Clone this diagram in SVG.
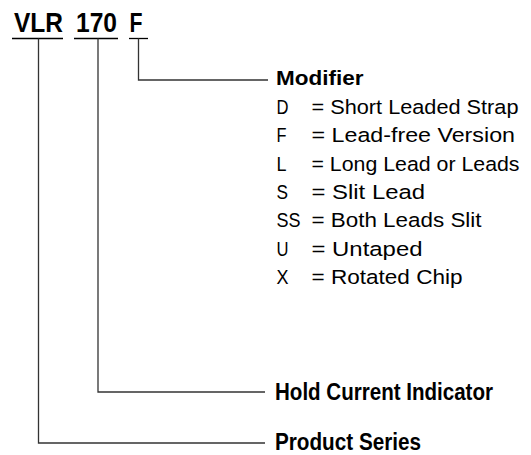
<svg xmlns="http://www.w3.org/2000/svg" width="531" height="455" viewBox="0 0 531 455">
<style>
text{font-family:"Liberation Sans",Arial,sans-serif;fill:#000}
.b{font-weight:bold}
.t{font-size:28px}
.h{font-size:20.5px}
.h2{font-size:23px}
.r{font-size:20.5px}
.ln{stroke:#000;stroke-width:1.3;fill:none}
.cn{stroke:#333;stroke-width:1.3;fill:none}
</style>
<rect width="531" height="455" fill="#fff"/>
<g id="code">
<text class="b t" x="14" y="32" textLength="49" lengthAdjust="spacingAndGlyphs">VLR</text>
<text class="b t" x="76" y="32" textLength="41" lengthAdjust="spacingAndGlyphs">170</text>
<text class="b t" x="129.5" y="32" textLength="13" lengthAdjust="spacingAndGlyphs">F</text>
<line class="ln" x1="12" y1="38.5" x2="63" y2="38.5"/>
<line class="ln" x1="74" y1="38.5" x2="118" y2="38.5"/>
<line class="ln" x1="129" y1="38.5" x2="148" y2="38.5"/>
</g>
<g id="connectors">
<path class="cn" d="M138.5 38.5V80H268"/>
<path class="cn" d="M98 38.5V392H265"/>
<path class="cn" d="M38.5 38.5V443H265"/>
</g>
<g id="modifier">
<text class="b h" x="276" y="85" textLength="87.5" lengthAdjust="spacingAndGlyphs">Modifier</text>
<text class="r" x="276.5" y="114" textLength="12" lengthAdjust="spacingAndGlyphs">D</text><text class="r" x="311.5" y="114" textLength="207" lengthAdjust="spacingAndGlyphs">= Short Leaded Strap</text>
<text class="r" x="276.5" y="142.3" textLength="10" lengthAdjust="spacingAndGlyphs">F</text><text class="r" x="311.5" y="142.3" textLength="203.5" lengthAdjust="spacingAndGlyphs">= Lead-free Version</text>
<text class="r" x="276.5" y="170.6" textLength="10" lengthAdjust="spacingAndGlyphs">L</text><text class="r" x="311.5" y="170.6" textLength="208" lengthAdjust="spacingAndGlyphs">= Long Lead or Leads</text>
<text class="r" x="276.5" y="198.9" textLength="11.5" lengthAdjust="spacingAndGlyphs">S</text><text class="r" x="311.5" y="198.9" textLength="113.5" lengthAdjust="spacingAndGlyphs">= Slit Lead</text>
<text class="r" x="276.5" y="227.2" textLength="24" lengthAdjust="spacingAndGlyphs">SS</text><text class="r" x="311.5" y="227.2" textLength="170" lengthAdjust="spacingAndGlyphs">= Both Leads Slit</text>
<text class="r" x="276.5" y="255.5" textLength="12" lengthAdjust="spacingAndGlyphs">U</text><text class="r" x="311.5" y="255.5" textLength="111" lengthAdjust="spacingAndGlyphs">= Untaped</text>
<text class="r" x="276.5" y="283.8" textLength="12" lengthAdjust="spacingAndGlyphs">X</text><text class="r" x="311.5" y="283.8" textLength="151" lengthAdjust="spacingAndGlyphs">= Rotated Chip</text>
</g>
<g id="hold">
<text class="b h2" x="275" y="400" textLength="218" lengthAdjust="spacingAndGlyphs">Hold Current Indicator</text>
</g>
<g id="series">
<text class="b h2" x="275" y="450" textLength="146" lengthAdjust="spacingAndGlyphs">Product Series</text>
</g>
</svg>
